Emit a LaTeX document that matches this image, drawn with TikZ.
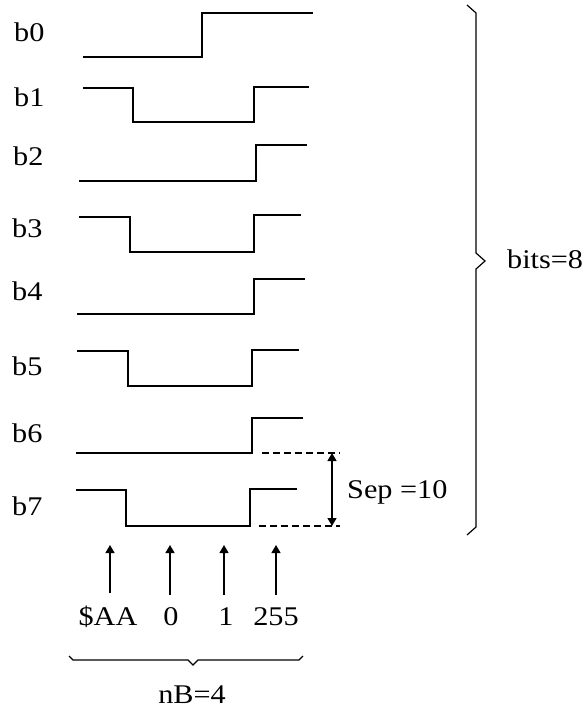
\documentclass[tikz,border=0pt]{standalone}
\usepackage{fontspec}
\setmainfont[FakeStretch=1.12]{Liberation Serif}
\usetikzlibrary{arrows.meta}
\begin{document}
\begin{tikzpicture}[x=1pt,y=-1pt,
  wave/.style={line width=1.7pt,line join=miter},
  bitlbl/.style={anchor=base west,inner sep=0pt,font=\fontsize{27}{30}\selectfont},
  txt/.style={anchor=base,inner sep=0pt,font=\fontsize{27}{30}\selectfont},
  brace/.style={line width=1.2pt},
  guide/.style={line width=1.1pt,dash pattern=on 7pt off 4pt},
  ptr/.style={line width=1.3pt,-{Triangle[width=9pt,length=8pt]}},
  dim/.style={line width=1.3pt,{Triangle[width=9pt,length=8pt]}-{Triangle[width=9pt,length=8pt]}}]
\useasboundingbox (0,0) rectangle (585,708);

% bit labels
\node[bitlbl] (b0) at (14,42) {b0};
\node[bitlbl] (b1) at (14,107) {b1};
\node[bitlbl] (b2) at (13,166) {b2};
\node[bitlbl] (b3) at (12,237) {b3};
\node[bitlbl] (b4) at (12,300) {b4};
\node[bitlbl] (b5) at (12,375) {b5};
\node[bitlbl] (b6) at (12,442) {b6};
\node[bitlbl] (b7) at (12,515) {b7};

% waveforms
\draw[wave] (83,57) -- (202,57) -- (202,13) -- (313,13);
\draw[wave] (83,88) -- (133,88) -- (133,122) -- (254,122) -- (254,87) -- (309,87);
\draw[wave] (79,181) -- (256,181) -- (256,145) -- (307,145);
\draw[wave] (79,217) -- (130,217) -- (130,252) -- (254,252) -- (254,215) -- (301,215);
\draw[wave] (77,314) -- (254,314) -- (254,279) -- (305,279);
\draw[wave] (77,351) -- (128,351) -- (128,386) -- (252,386) -- (252,350) -- (299,350);
\draw[wave] (76,453) -- (252,453) -- (252,418) -- (303,418);
\draw[wave] (76,490) -- (126,490) -- (126,526) -- (250,526) -- (250,489) -- (297,489);

% separation dimension
\coordinate (g6a) at (262,453);
\coordinate (g6b) at (340,453);
\coordinate (g7a) at (259,526);
\coordinate (g7b) at (340,526);
\draw[guide] (g6a) -- (g6b);
\draw[guide] (g7a) -- (g7b);
\coordinate (sepTop) at (332,453);
\coordinate (sepBot) at (332,526);
\draw[dim] (sepTop) -- (sepBot);
\node[anchor=base west,inner sep=0pt,font=\fontsize{27}{30}\selectfont] (sep) at (347,498) {Sep =10};

% brace over all bits
\draw[brace] (467,5) -- (476,13) -- (476,253) -- (485,261) -- (476,269) -- (476,527) -- (467,535);
\node[anchor=base west,inner sep=0pt,font=\fontsize{27}{30}\selectfont] (bits) at (507,268) {bits=8};

% byte values and pointers
\node[txt] (vAA) at (108,625) {\$AA};
\node[txt] (v0) at (171,625) {0};
\node[txt] (v1) at (226,625) {1};
\node[txt] (v255) at (276,625) {255};
\coordinate (tAA) at (110,545);
\coordinate (t0) at (170,545);
\coordinate (t1) at (224,545);
\coordinate (t255) at (276,545);
\draw[ptr] (vAA.north -| tAA) ++(0,-12) -- (tAA);
\draw[ptr] (v0.north -| t0) ++(0,-12) -- (t0);
\draw[ptr] (v1.north -| t1) ++(0,-12) -- (t1);
\draw[ptr] (v255.north -| t255) ++(0,-12) -- (t255);

% brace under the byte values
\draw[brace] (69,656) -- (73,660) -- (188,660) -- (193,665) -- (198,660) -- (299,660) -- (303,656);
\node[txt] (nb) at (192,703) {nB=4};
\end{tikzpicture}
\end{document}
